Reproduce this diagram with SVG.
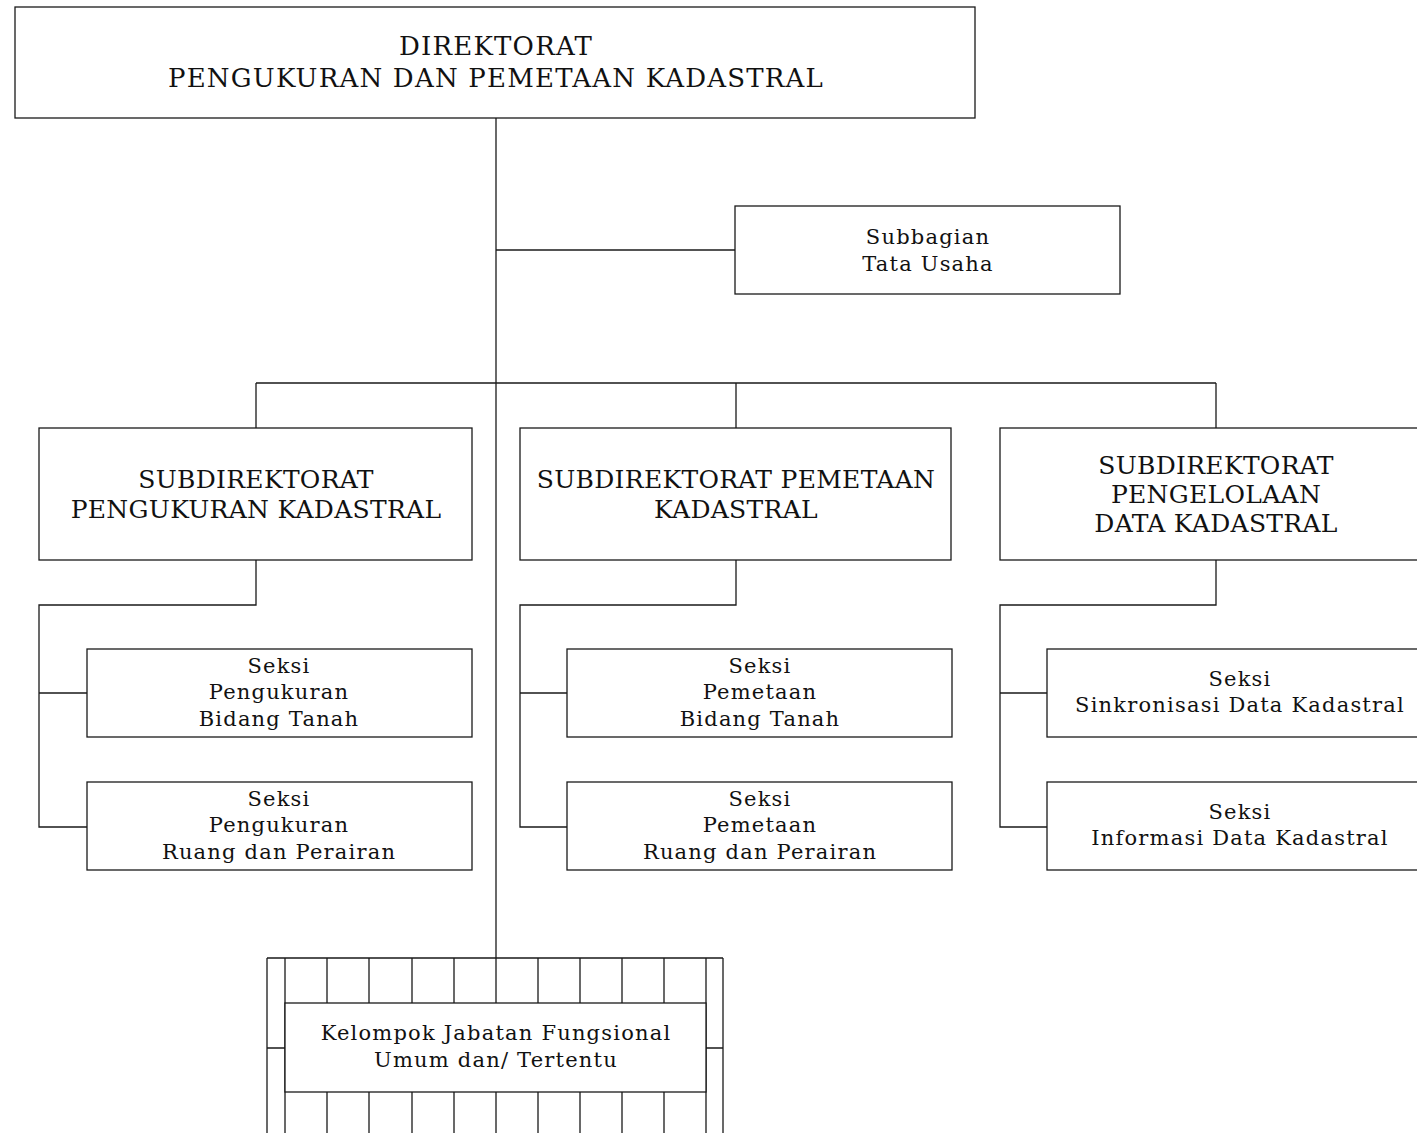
<svg xmlns="http://www.w3.org/2000/svg" width="1417" height="1133" viewBox="0 0 1417 1133">
  <style>
    .box { fill: #ffffff; stroke: #1a1a1a; stroke-width: 1.3; }
    .ln { fill: none; stroke: #1a1a1a; stroke-width: 1.3; }
    .t { font-family: "DejaVu Serif", "Liberation Serif", serif; fill: #111111; text-anchor: middle; }
    .big { font-size: 26px; letter-spacing: 1.2px; }
    .mid { font-size: 25px; letter-spacing: 0.3px; }
    .sm { font-size: 21px; letter-spacing: 1.2px; }
  </style>
  <rect width="1417" height="1133" fill="#ffffff"/>

  <g id="connectors">
    <!-- main spine -->
    <path class="ln" d="M496 118 V958"/>
    <!-- to Subbagian -->
    <path class="ln" d="M496 250 H735"/>
    <!-- bar to subdirectorates -->
    <path class="ln" d="M256 383 H1216 M256 383 V428 M736 383 V428 M1216 383 V428"/>
    <!-- column 1 -->
    <path class="ln" d="M256 560 V605 H39 V827 H87 M39 693 H87"/>
    <!-- column 2 -->
    <path class="ln" d="M736 560 V605 H520 V827 H567 M520 693 H567"/>
    <!-- column 3 -->
    <path class="ln" d="M1216 560 V605 H1000 V827 H1047 M1000 693 H1047"/>
  </g>

  <g id="direktorat">
    <rect class="box" x="15" y="7" width="960" height="111"/>
    <text class="t big" x="496" y="55">DIREKTORAT</text>
    <text class="t big" x="496" y="87">PENGUKURAN DAN PEMETAAN KADASTRAL</text>
  </g>

  <g id="subbagian-tu">
    <rect class="box" x="735" y="206" width="385" height="88"/>
    <text class="t sm" x="928" y="244">Subbagian</text>
    <text class="t sm" x="928" y="271">Tata Usaha</text>
  </g>

  <g id="subdit-pengukuran">
    <rect class="box" x="39" y="428" width="433" height="132"/>
    <text class="t mid" x="256" y="488">SUBDIREKTORAT</text>
    <text class="t mid" x="256" y="518">PENGUKURAN KADASTRAL</text>
  </g>

  <g id="subdit-pemetaan">
    <rect class="box" x="520" y="428" width="431" height="132"/>
    <text class="t mid" x="736" y="488">SUBDIREKTORAT PEMETAAN</text>
    <text class="t mid" x="736" y="518">KADASTRAL</text>
  </g>

  <g id="subdit-data">
    <rect class="box" x="1000" y="428" width="440" height="132"/>
    <text class="t mid" x="1216" y="474">SUBDIREKTORAT</text>
    <text class="t mid" x="1216" y="503">PENGELOLAAN</text>
    <text class="t mid" x="1216" y="532">DATA KADASTRAL</text>
  </g>

  <g id="seksi-ukur-bidang">
    <rect class="box" x="87" y="649" width="385" height="88"/>
    <text class="t sm" x="279" y="673">Seksi</text>
    <text class="t sm" x="279" y="699">Pengukuran</text>
    <text class="t sm" x="279" y="726">Bidang Tanah</text>
  </g>

  <g id="seksi-ukur-ruang">
    <rect class="box" x="87" y="782" width="385" height="88"/>
    <text class="t sm" x="279" y="806">Seksi</text>
    <text class="t sm" x="279" y="832">Pengukuran</text>
    <text class="t sm" x="279" y="859">Ruang dan Perairan</text>
  </g>

  <g id="seksi-peta-bidang">
    <rect class="box" x="567" y="649" width="385" height="88"/>
    <text class="t sm" x="760" y="673">Seksi</text>
    <text class="t sm" x="760" y="699">Pemetaan</text>
    <text class="t sm" x="760" y="726">Bidang Tanah</text>
  </g>

  <g id="seksi-peta-ruang">
    <rect class="box" x="567" y="782" width="385" height="88"/>
    <text class="t sm" x="760" y="806">Seksi</text>
    <text class="t sm" x="760" y="832">Pemetaan</text>
    <text class="t sm" x="760" y="859">Ruang dan Perairan</text>
  </g>

  <g id="seksi-sinkronisasi">
    <rect class="box" x="1047" y="649" width="400" height="88"/>
    <text class="t sm" x="1240" y="686">Seksi</text>
    <text class="t sm" x="1240" y="712">Sinkronisasi Data Kadastral</text>
  </g>

  <g id="seksi-informasi">
    <rect class="box" x="1047" y="782" width="400" height="88"/>
    <text class="t sm" x="1240" y="819">Seksi</text>
    <text class="t sm" x="1240" y="845">Informasi Data Kadastral</text>
  </g>

  <g id="kelompok-fungsional">
    <!-- tiled frame -->
    <path class="ln" d="M267 958 H723 M267 958 V1133 M723 958 V1133 M267 1048 H285 M706 1048 H723
      M285 958 V1133 M327 958 V1003 M369 958 V1003 M412 958 V1003 M454 958 V1003 M496 958 V1003
      M538 958 V1003 M580 958 V1003 M622 958 V1003 M664 958 V1003 M706 958 V1133
      M327 1092 V1133 M369 1092 V1133 M412 1092 V1133 M454 1092 V1133 M496 1092 V1133
      M538 1092 V1133 M580 1092 V1133 M622 1092 V1133 M664 1092 V1133"/>
    <rect class="box" x="285" y="1003" width="421" height="89"/>
    <text class="t sm" x="496" y="1040">Kelompok Jabatan Fungsional</text>
    <text class="t sm" x="496" y="1067">Umum dan/ Tertentu</text>
  </g>
</svg>
